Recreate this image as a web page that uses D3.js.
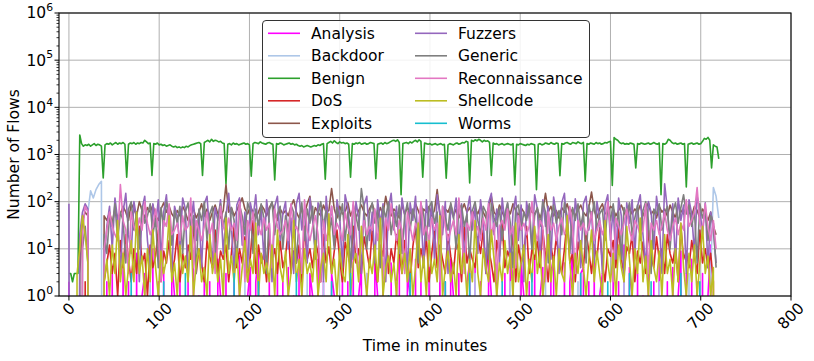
<!DOCTYPE html>
<html><head><meta charset="utf-8">
<script src="https://cdn.jsdelivr.net/npm/d3@7/dist/d3.min.js"></script>
<style>body{margin:0;background:#fff} svg{display:block} text{font-family:"DejaVu Sans",sans-serif;fill:#000}</style>
</head><body><svg id="c" width="814" height="361"></svg>
<script>
// ---------------- DATA ----------------
const seriesNames = ["Analysis","Backdoor","Benign","DoS","Exploits","Fuzzers","Generic","Reconnaissance","Shellcode","Worms"];
const seriesColors = ["#ff00ff","#aec7e8","#2ca02c","#d62728","#8c564b","#9467bd","#7f7f7f","#e377c2","#bcbd22","#17becf"];
const xTickValues = [0,100,200,300,400,500,600,700,800];
const yTickExponents = [0,1,2,3,4,5,6];
const xLabel = "Time in minutes";
const yLabel = "Number of Flows";

// Benign: one value every 2 minutes (minute 0 .. 720)
const benign = [
3,3,2,3,3,3,
2600,
1700,1500,1600,1550,1650,1500,1600,1700,1550,1650,1600,1500,
320,
1600,1700,1650,1750,1600,1700,1800,1650,1750,1700,1800,1650,
330,
1650,1750,1700,1800,1650,1750,1700,1800,1750,2000,1850,1700,1750,
360,
1700,1650,1750,1600,1650,1550,1600,1500,1550,1600,1500,1450,1500,
1400,1450,1380,1450,1400,1500,1450,1550,1600,1650,1700,1750,1800,1700,
360,
1800,1900,2000,1850,2100,1900,2000,1950,1850,1900,1750,1700,
240,
1650,1700,1600,1750,1650,1700,1600,1650,1700,1750,1650,1700,1600,
345,
1700,1800,1750,1700,1850,1750,1700,1650,1750,1800,1700,1650,
290,
1700,1650,1750,1700,1600,1650,1700,1750,1650,1700,1600,1650,1550,1500,1550,1450,1500,1550,1500,1450,1500,1550,1500,1600,1550,1650,1700,
300,
1700,1800,1900,1750,1950,1800,1700,1850,1750,1800,1700,1750,1650,
330,
1700,1650,1750,1700,1800,1650,1700,1750,1650,1700,1800,1750,1700,
305,
1650,1700,1750,1650,1800,1700,1750,1850,1950,2000,1900,2050,1800,
140,
1700,1750,1800,1700,1850,1750,1900,2000,1850,2050,1900,
330,
1750,1700,1650,1700,1600,1650,1700,1600,1650,1700,1600,1650,
316,
1600,1700,1650,1600,1700,1750,1650,1700,1800,1750,1900,1850,
250,
2000,1900,2050,1950,2100,2000,1850,2000,1900,1950,1800,
360,
1750,1650,1700,1600,1650,1700,1600,1650,1700,1650,1600,1700,
225,
1650,1600,1700,1650,1600,1550,1650,1600,1700,1650,1600,
180,
1650,1700,1600,1650,1750,1700,1650,1800,1700,1650,1750,1700,
355,
1700,1650,1750,1800,1700,1650,1800,1750,1700,1850,1750,1700,1800,
270,
1700,1650,1750,1700,1650,1800,1700,1750,1650,1700,1800,1750,1850,1900,
220,
2300,2100,2000,1800,1700,1750,1650,1700,1650,1750,1700,1650,
520,
1700,1650,1750,1700,1650,1700,1750,1650,1700,1800,1700,1650,1750,
140,
1700,1650,1750,2100,2000,1800,1700,1750,1650,1700,1750,1650,1700,
205,
1650,1700,1750,1650,1700,1750,1650,1700,1900,2200,2100,2300,2000,
520,
1600,1500,1450,
810
];

// Attack classes: one value every 3 minutes (minute 0 .. 717), Backdoor to 720
const analysis = [
2,0,0,0,0,0,0,0,0,0,
0,0,0,0,2,0,3,0,1,0,
5,0,2,0,0,8,0,1,3,0,
0,10,0,2,0,4,0,0,6,1,
0,3,0,0,2,0,9,0,1,0,
4,0,2,0,0,6,1,0,3,0,
0,2,0,7,0,0,1,4,0,2,
8,0,1,0,3,0,0,5,0,2,
0,4,0,1,0,9,2,0,0,3,
1,0,6,0,2,0,0,3,1,0,
0,5,0,2,0,10,0,1,4,0,
3,0,0,7,1,0,2,0,0,5,
0,2,8,0,0,3,1,0,6,0,
2,0,0,4,0,1,0,9,0,2,
0,6,1,0,3,0,0,2,5,0,
4,0,2,0,0,8,1,0,3,0,
0,3,0,10,2,0,0,5,1,0,
2,0,6,0,1,4,0,0,3,7,
0,1,0,5,0,2,9,0,0,3,
4,0,2,0,6,0,1,3,0,0,
0,8,0,2,0,12,0,4,1,0,
3,0,1,0,7,0,2,0,5,0,
0,2,0,4,0,1,9,0,3,0,
6,0,2,0,3,0,1,12,0,0
];
const backdoor = [
0,0,0,0,0,0,0,60,170,120,
180,230,270,0,0,0,0,0,0,0,
0,0,0,0,0,0,0,0,0,0,
2,0,0,0,0,0,0,0,0,0,
0,0,0,0,1,0,0,0,0,0,
0,0,0,0,0,0,0,3,0,0,
0,0,0,0,0,2,0,0,0,0,
0,0,0,0,0,0,0,0,1,0,
0,0,0,0,0,0,0,0,3,0,
0,0,0,0,2,0,0,0,0,0,
0,0,0,0,0,0,0,0,0,0,
3,0,0,0,0,0,0,0,0,0,
0,2,0,0,0,0,0,0,0,0,
0,0,0,0,0,1,0,0,0,0,
0,0,0,0,0,0,0,0,0,0,
3,0,0,0,0,0,0,0,0,0,
0,0,0,2,0,0,0,0,0,0,
0,0,0,0,0,0,3,0,0,0,
0,0,0,0,0,0,0,0,2,0,
0,0,0,0,0,0,1,0,0,0,
0,0,0,0,0,3,0,0,0,0,
0,0,0,0,0,0,0,0,2,0,
0,0,0,0,0,0,0,0,0,3,
0,0,0,0,0,0,0,3,200,130,
45
];
const dos = [
0,0,0,0,0,0,2,0,0,0,
0,0,0,2,5,12,3,8,1,15,
4,20,6,2,10,3,30,5,8,1,
12,4,7,25,2,9,5,15,3,6,
20,2,8,4,12,6,35,3,10,5,
2,15,7,4,25,3,9,6,12,2,
8,30,4,10,5,18,2,7,40,3,
12,5,8,2,20,6,10,3,15,4,
7,25,3,9,5,12,2,30,6,10,
4,15,8,2,20,5,11,3,9,25,
6,2,14,8,4,30,5,10,3,18,
9,4,25,6,2,12,7,40,3,10,
5,20,8,3,15,6,2,11,30,4,
10,5,18,2,8,25,4,12,6,3,
20,7,3,14,9,2,30,5,10,6,
4,18,8,25,3,10,5,2,15,7,
35,4,9,6,20,2,12,5,8,30,
3,10,6,15,4,25,7,2,12,5,
18,6,3,10,40,5,8,2,14,7,
4,22,9,3,12,6,28,5,2,10,
7,15,4,30,6,3,11,8,20,2,
9,5,14,3,25,7,4,18,6,10,
3,20,8,5,12,2,30,6,9,4,
15,7,3,25,5,10,4,8,2,0
];
const exploits = [
0,0,0,0,3,40,60,50,0,0,
0,0,0,50,40,60,35,70,45,55,
80,60,40,90,70,50,100,65,45,75,
60,85,50,40,70,95,60,80,55,45,
65,50,80,60,40,55,70,45,60,90,
50,70,40,60,85,55,45,65,230,60,
75,50,65,90,120,70,55,80,60,45,
60,85,70,50,75,95,60,40,70,55,
65,50,80,110,60,45,70,55,90,130,
40,75,60,50,85,60,65,190,70,45,
80,55,60,95,50,70,45,65,85,60,
50,70,90,60,45,75,55,130,65,50,
70,60,45,85,55,75,60,50,90,65,
45,70,60,80,50,65,180,55,40,70,
60,85,50,70,45,65,90,60,75,50,
70,55,80,60,45,75,130,60,50,85,
60,45,70,55,90,65,50,75,60,45,
80,60,55,70,45,65,150,60,80,50,
65,45,75,60,90,55,70,50,65,85,
60,50,75,160,65,45,70,90,55,60,
80,70,50,65,85,60,45,75,55,70,
60,85,50,70,95,55,65,45,80,60,
70,50,85,60,45,90,65,55,75,60,
50,80,65,45,70,55,40,60,30,20
];
const fuzzers = [
90,0,0,0,20,60,90,70,0,0,
0,0,0,5,30,80,10,120,40,3,
60,150,20,8,100,45,2,70,130,15,
4,90,30,110,6,60,140,25,3,80,
50,10,120,70,2,35,100,15,60,4,
90,130,20,5,75,40,110,8,50,150,
30,3,85,120,12,60,4,95,45,140,
20,70,6,110,35,2,80,130,15,55,
100,10,45,3,90,150,25,70,5,120,
40,8,95,60,2,130,30,80,12,110,
50,4,140,75,20,6,100,45,3,85,
130,15,60,5,110,35,90,2,70,150,
25,80,8,120,50,3,95,40,130,10,
65,4,110,30,85,6,140,55,20,100,
3,75,45,120,10,90,5,60,130,25,
80,8,110,40,3,95,150,20,70,5,
120,35,90,4,60,130,15,85,2,100,
45,10,140,70,5,110,30,80,6,125,
55,3,95,150,20,70,8,115,40,4,
90,130,25,60,5,100,45,3,85,140,
15,70,6,120,50,2,95,35,110,8,
80,140,20,4,100,60,10,130,45,3,
240,70,15,90,5,120,40,85,3,110,
55,8,130,70,20,95,4,60,25,5
];
const generic = [
0,0,0,0,0,10,30,5,0,0,
0,0,0,20,8,50,30,90,15,60,
40,5,70,100,25,60,10,80,35,50,
90,20,45,4,75,30,100,55,12,65,
35,80,8,60,95,25,50,3,70,40,
100,15,55,80,6,45,90,30,60,10,
75,40,5,85,50,20,95,60,8,70,
30,90,45,3,65,100,20,55,80,10,
50,25,85,60,5,40,95,15,70,35,
80,6,55,100,30,65,20,45,10,75,
40,90,15,60,3,85,50,25,190,70,
10,55,95,35,65,4,80,45,100,20,
60,30,85,8,50,95,25,70,40,5,
90,55,15,75,100,35,60,3,80,45,
25,95,50,10,70,85,30,55,5,65,
100,40,20,80,60,6,90,45,30,75,
15,55,95,35,4,70,85,25,60,40,
90,10,50,75,30,100,60,5,45,85,
35,65,20,95,50,8,75,40,90,30,
60,5,85,45,100,25,55,70,15,80,
40,90,30,60,6,75,50,95,20,45,
85,15,65,100,40,3,70,55,90,25,
50,80,10,60,95,35,75,140,55,85,
30,65,5,90,45,70,15,50,35,4
];
const reconnaissance = [
0,0,0,0,0,20,80,60,0,0,
0,0,0,10,25,60,30,20,15,230,
40,25,3,60,30,20,45,25,100,35,
20,30,70,25,2,40,30,90,20,25,
35,15,50,25,30,120,4,40,25,15,
30,60,20,35,3,15,80,30,20,45,
25,35,15,100,30,2,40,25,60,15,
30,20,45,25,35,4,70,30,20,25,
40,15,90,25,30,20,3,110,25,15,
30,50,20,2,40,15,30,80,20,35,
25,15,60,30,20,100,25,3,15,40,
20,30,25,70,15,35,2,45,25,90,
30,15,40,25,3,60,30,15,35,25,
100,20,30,15,45,25,35,2,80,30,
15,25,40,20,120,30,3,35,25,60,
20,30,15,45,25,90,20,35,2,30,
40,25,70,20,30,4,50,25,35,20,
30,100,25,15,40,30,2,60,25,35,
15,30,45,20,25,80,30,3,40,25,
35,20,30,60,15,25,40,20,30,100,
25,2,45,30,20,35,70,25,15,40,
30,20,25,90,3,35,25,40,20,30,
60,25,15,30,45,20,35,25,110,30,
40,60,200,35,25,90,30,15,40,10
];
const shellcode = [
0,0,0,3,10,50,20,5,0,0,
0,0,0,2,6,1,12,3,40,2,
8,1,4,15,2,60,3,7,1,10,
2,25,4,1,9,3,6,50,2,5,
1,12,3,7,2,30,1,5,10,2,
4,1,20,3,8,2,6,1,45,3,
7,2,10,1,4,15,2,6,3,35,
1,8,3,5,2,12,1,25,4,2,
9,1,3,40,2,6,1,10,3,5,
2,15,1,4,8,2,55,3,6,1,
10,3,2,20,1,5,8,2,30,4,
1,6,3,12,2,45,1,4,7,2,
5,1,25,3,8,2,10,1,4,35,
2,7,1,15,3,6,2,50,1,4,
9,2,5,1,20,3,8,1,6,2,
40,3,1,10,4,2,25,6,1,5,
2,15,3,8,1,35,2,5,12,1,
6,2,30,3,9,1,4,20,2,7,
1,10,3,2,50,5,1,8,3,15,
4,1,6,25,2,9,3,1,40,5,
2,8,1,12,4,2,30,6,1,10,
3,45,2,7,1,15,4,2,9,1,
20,3,6,1,10,2,35,4,1,8,
2,12,1,5,30,3,7,1,4,0
];
const worms = [
0,0,0,0,0,0,0,0,0,0,
0,0,0,0,0,0,0,0,0,0,
0,0,0,3,0,0,0,0,0,0,
0,0,0,0,0,2,0,0,0,0,
0,0,0,3,0,0,0,0,0,0,
0,0,1,0,0,0,0,0,0,0,
0,3,0,0,0,0,0,0,0,0,
2,0,0,0,0,0,0,0,0,0,
0,0,0,0,3,0,0,0,0,0,
0,0,0,0,0,0,0,2,0,0,
0,0,0,0,3,0,0,0,0,0,
0,0,0,0,0,0,0,0,1,0,
0,0,0,0,0,0,3,0,0,0,
0,0,0,0,0,0,0,0,0,2,
0,0,0,0,0,0,0,0,3,0,
0,0,0,0,0,0,0,0,0,0,
2,0,0,0,0,0,0,0,0,0,
0,3,0,0,0,0,0,0,0,0,
0,0,0,1,0,0,0,0,0,3,
0,0,0,0,0,0,0,0,0,2,
0,0,0,0,0,0,0,3,0,0,
0,0,0,0,0,2,0,0,0,0,
0,0,0,0,0,0,3,0,0,0,
0,0,0,2,0,0,0,0,0,0
];

const seriesValues = [analysis, backdoor, benign, dos, exploits, fuzzers, generic, reconnaissance, shellcode, worms];
const seriesStep = [3,3,2,3,3,3,3,3,3,3]; // minutes between samples

// ---------------- DRAW ----------------
const svg = d3.select("#c");
const L = 59, R = 791, T = 13, B = 296;
const x = d3.scaleLinear().domain([-11, 800]).range([L, R]);
const y = d3.scaleLog().domain([1, 1e6]).range([B, T]);
const FS = 15.5;

// grid
const grid = svg.append("g").attr("stroke", "#b0b0b0").attr("stroke-width", 1);
xTickValues.forEach(v => grid.append("line").attr("x1", x(v)).attr("x2", x(v)).attr("y1", T).attr("y2", B));
yTickExponents.forEach(e => grid.append("line").attr("x1", L).attr("x2", R).attr("y1", y(Math.pow(10, e))).attr("y2", y(Math.pow(10, e))));

svg.append("clipPath").attr("id", "clip").append("rect").attr("x", L).attr("y", T).attr("width", R - L).attr("height", B - T);
const plot = svg.append("g").attr("clip-path", "url(#clip)");
const line = d3.line().x(d => x(d[0])).y(d => y(Math.max(d[1], 1e-30)));
seriesNames.forEach((name, i) => {
  const pts = seriesValues[i].map((v, k) => [k * seriesStep[i], v]);
  plot.append("path").datum(pts).attr("d", line).attr("fill", "none")
    .attr("stroke", seriesColors[i]).attr("stroke-width", 1.6).attr("stroke-linejoin", "round");
});

// spines
svg.append("rect").attr("x", L).attr("y", T).attr("width", R - L).attr("height", B - T)
  .attr("fill", "none").attr("stroke", "#000").attr("stroke-width", 1.1);

// x ticks
const xt = svg.append("g");
xTickValues.forEach(v => {
  xt.append("line").attr("x1", x(v)).attr("x2", x(v)).attr("y1", B).attr("y2", B + 4.5).attr("stroke", "#000");
  const t = xt.append("text").text(v).attr("font-size", FS).attr("text-anchor", "middle").attr("dominant-baseline", "central");
  const w = t.node().getComputedTextLength();
  const h = FS * 1.05;
  const c = (w + h) / (2 * Math.SQRT2);
  t.attr("transform", `translate(${x(v)},${B + 4 + c}) rotate(-45)`);
});

// y ticks (major + minor)
const yt = svg.append("g");
yTickExponents.forEach(e => {
  const yy = y(Math.pow(10, e));
  yt.append("line").attr("x1", L - 4.5).attr("x2", L).attr("y1", yy).attr("y2", yy).attr("stroke", "#000");
  const t = yt.append("text").attr("x", 53).attr("y", yy + 5.4).attr("font-size", FS).attr("text-anchor", "end");
  t.append("tspan").text("10");
  t.append("tspan").text(e).attr("font-size", 10.8).attr("dy", -7.2);
  if (e < 6) {
    for (let m = 2; m <= 9; m++) {
      const ym = y(m * Math.pow(10, e));
      yt.append("line").attr("x1", L - 2.5).attr("x2", L).attr("y1", ym).attr("y2", ym).attr("stroke", "#000").attr("stroke-width", 0.8);
    }
  }
});

// axis labels
svg.append("text").text(xLabel).attr("x", (L + R) / 2).attr("y", 351).attr("font-size", FS).attr("text-anchor", "middle");
svg.append("text").text(yLabel).attr("transform", `translate(19,${(T + B) / 2}) rotate(-90)`).attr("font-size", FS).attr("text-anchor", "middle");

// legend
const lg = svg.append("g");
lg.append("rect").attr("x", 262.5).attr("y", 20.5).attr("width", 327).attr("height", 117).attr("rx", 3.5)
  .attr("fill", "#fff").attr("fill-opacity", 0.85).attr("stroke", "#333").attr("stroke-width", 1);
seriesNames.forEach((name, i) => {
  const col = Math.floor(i / 5), row = i % 5;
  const hx = col === 0 ? 268 : 415;
  const yy = 33.3 + row * 22.5;
  lg.append("line").attr("x1", hx).attr("x2", hx + 32).attr("y1", yy).attr("y2", yy).attr("stroke", seriesColors[i]).attr("stroke-width", 1.6);
  lg.append("text").text(name).attr("x", hx + 43).attr("y", yy + 5.4).attr("font-size", FS);
});
</script></body></html>
